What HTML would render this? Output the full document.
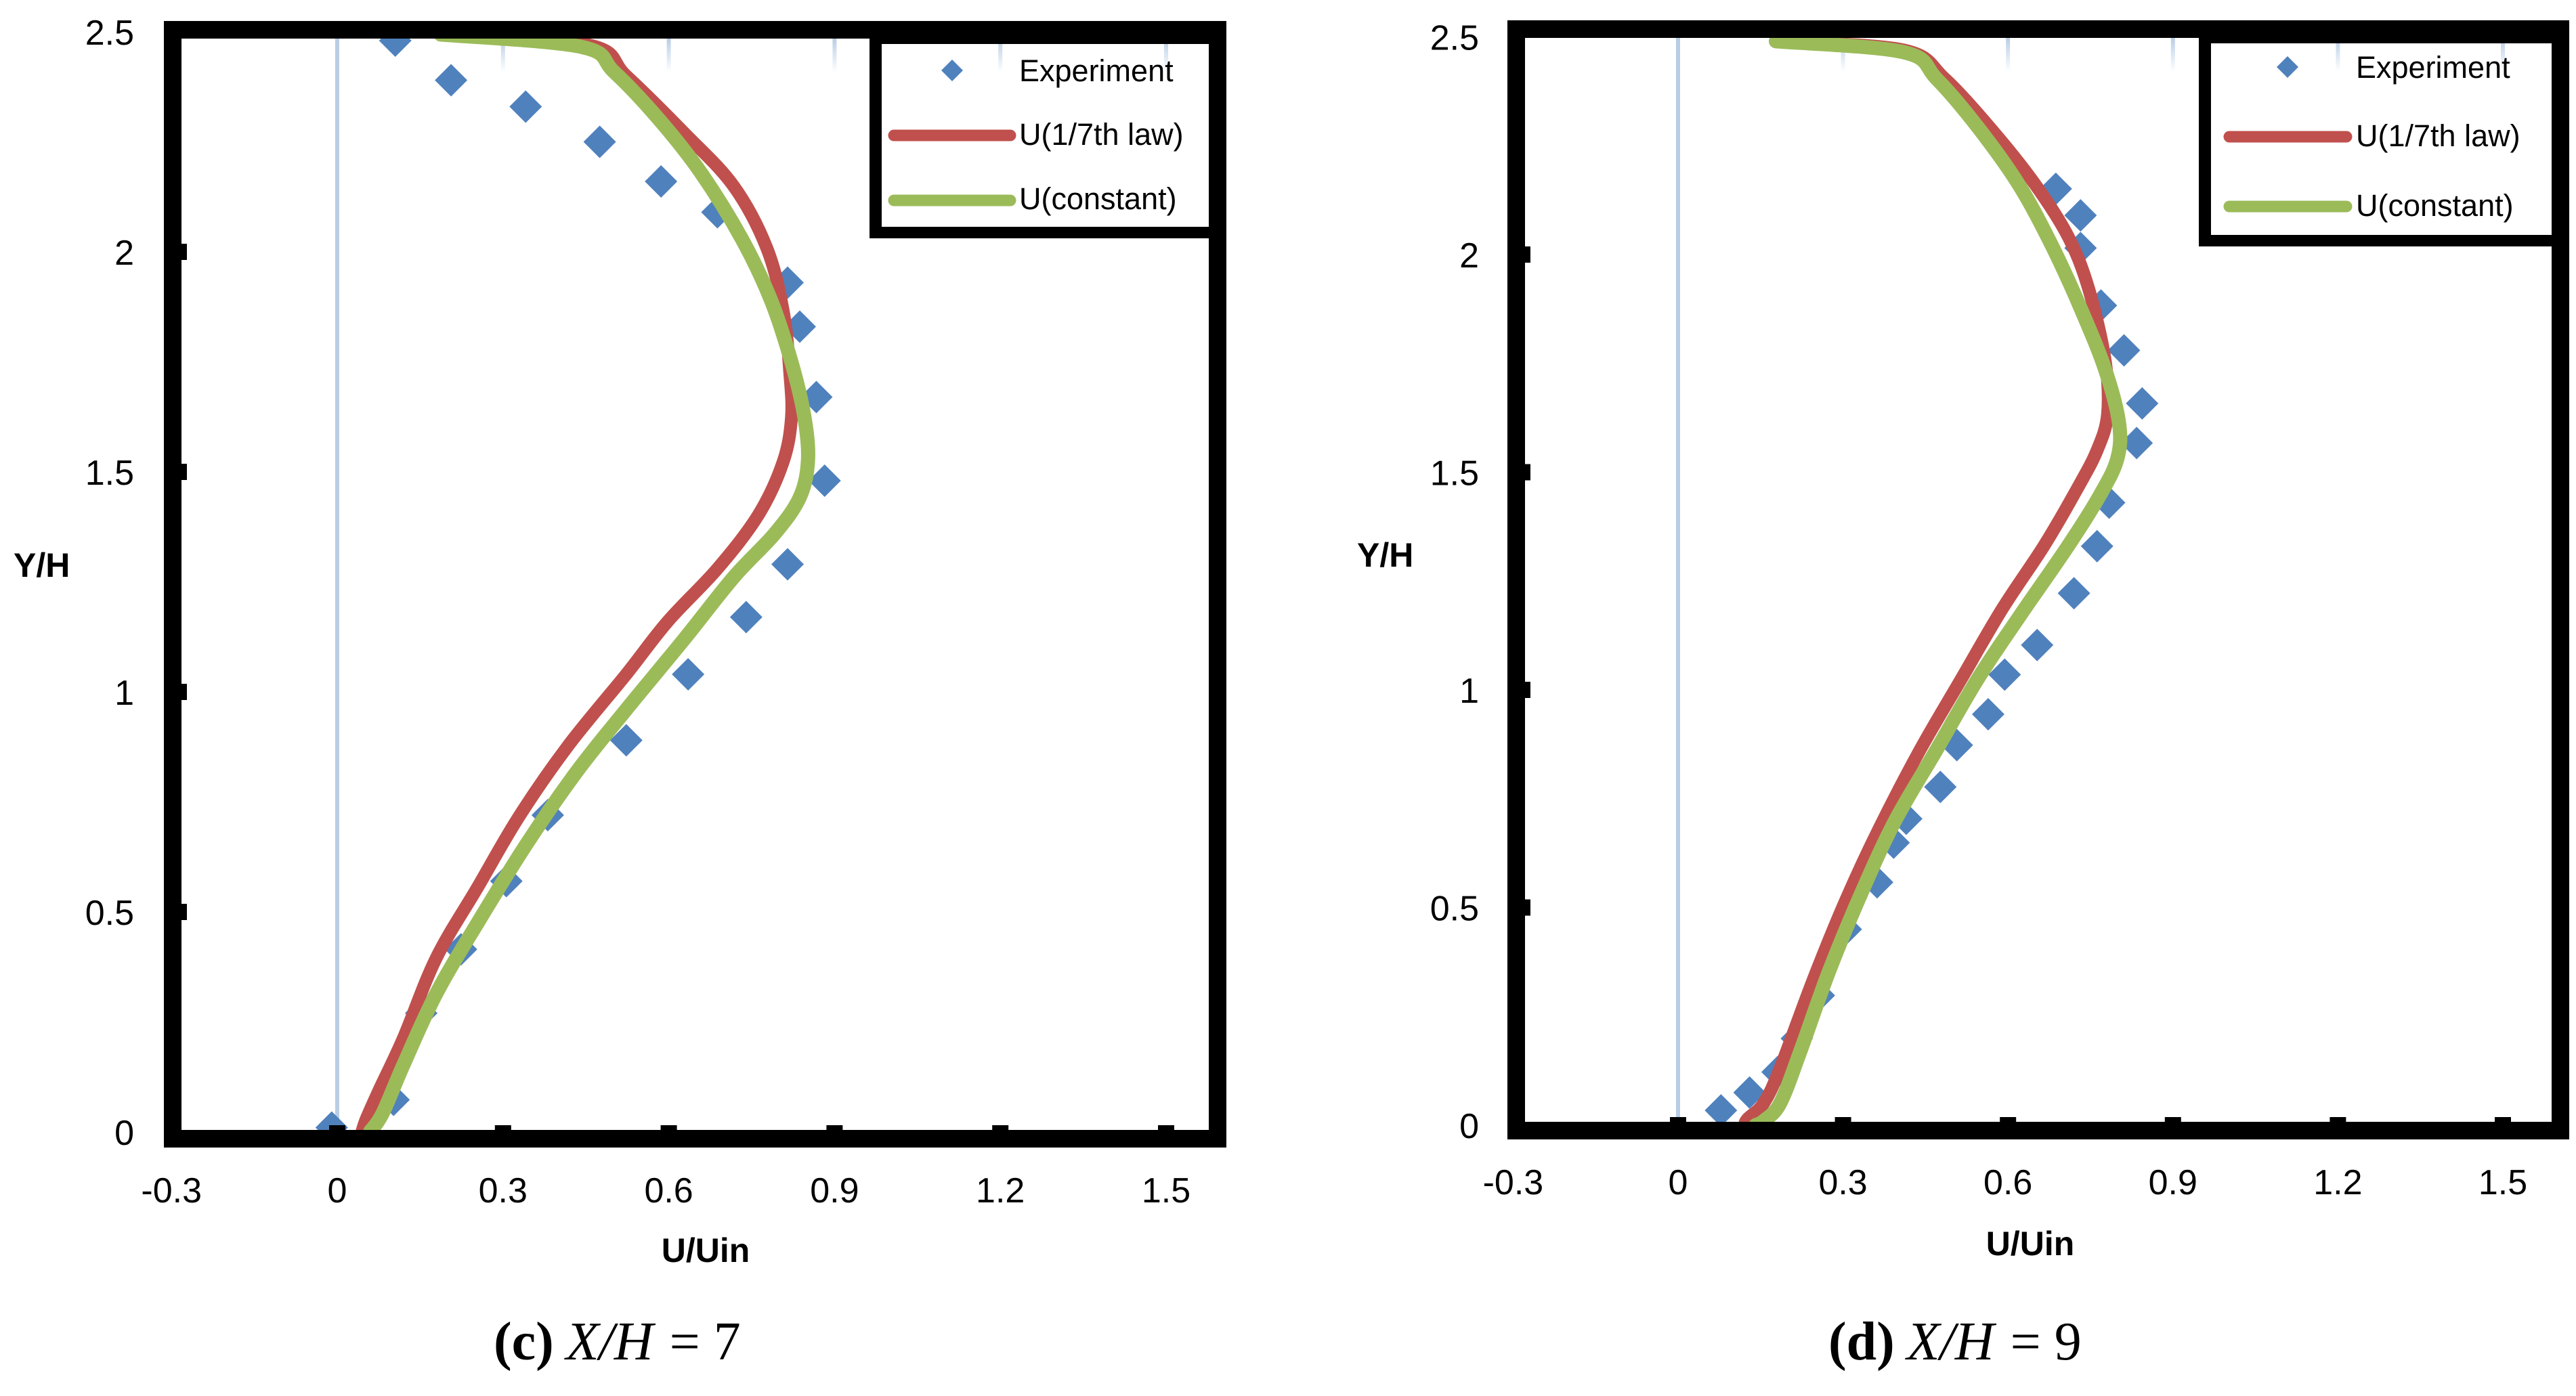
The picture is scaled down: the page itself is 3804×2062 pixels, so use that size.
<!DOCTYPE html>
<html><head><meta charset="utf-8">
<style>
html,body{margin:0;padding:0;background:#fff;}
svg{display:block;}
text{fill:#000;}
</style></head>
<body>
<svg id="fig" width="3804" height="2062" viewBox="0 0 3804 2062" xmlns="http://www.w3.org/2000/svg" style="font-family:'Liberation Sans',sans-serif">
<defs>
<linearGradient id="stub" x1="0" y1="0" x2="0" y2="1">
<stop offset="0" stop-color="#b9cde5"/><stop offset="1" stop-color="#b9cde5" stop-opacity="0"/>
</linearGradient>
</defs>
</svg>
<script>
// ---------- data ----------
const xTicks = [-0.3, 0, 0.3, 0.6, 0.9, 1.2, 1.5];
const xTickLabels = ["-0.3", "0", "0.3", "0.6", "0.9", "1.2", "1.5"];
const yTicks = [0, 0.5, 1, 1.5, 2, 2.5];
const yTickLabels = ["0", "0.5", "1", "1.5", "2", "2.5"];
const seriesNames = ["Experiment", "U(1/7th law)", "U(constant)"];

// Panel (c) X/H = 7
const expC_x = [0.105,0.206,0.341,0.475,0.586,0.688,0.815,0.837,0.867,0.882,0.815,0.740,0.635,0.523,0.381,0.306,0.224,0.152,0.102,-0.01];
const expC_y = [2.48,2.39,2.33,2.25,2.16,2.09,1.93,1.83,1.67,1.48,1.29,1.17,1.04,0.89,0.72,0.57,0.415,0.27,0.073,0.01];
const lawC_x = [0.19,0.456,0.523,0.628,0.717,0.777,0.807,0.819,0.822,0.807,0.762,0.688,0.598,0.523,0.418,0.329,0.254,0.179,0.12,0.075,0.052,0.045];
const lawC_y = [2.494,2.47,2.40,2.27,2.15,2.01,1.866,1.725,1.624,1.523,1.402,1.28,1.16,1.04,0.878,0.717,0.556,0.395,0.214,0.093,0.028,0.002];
const conC_x = [0.187,0.441,0.501,0.583,0.658,0.732,0.785,0.822,0.845,0.852,0.837,0.792,0.717,0.628,0.523,0.433,0.344,0.254,0.179,0.12,0.082,0.06];
const conC_y = [2.494,2.466,2.409,2.30,2.18,2.03,1.89,1.749,1.628,1.527,1.442,1.36,1.26,1.12,0.96,0.818,0.657,0.475,0.314,0.153,0.042,0.002];

// Panel (d) X/H = 9
const expD_x = [0.687,0.732,0.732,0.769,0.811,0.844,0.834,0.784,0.762,0.72,0.653,0.594,0.564,0.507,0.477,0.415,0.392,0.362,0.305,0.256,0.216,0.181,0.13,0.078];
const expD_y = [2.151,2.09,2.015,1.883,1.78,1.658,1.567,1.43,1.33,1.222,1.103,1.035,0.944,0.873,0.777,0.704,0.649,0.558,0.45,0.298,0.199,0.122,0.075,0.034];
const lawD_x = [0.178,0.41,0.485,0.575,0.65,0.71,0.747,0.777,0.781,0.762,0.725,0.665,0.59,0.515,0.44,0.365,0.305,0.246,0.186,0.156,0.126,0.121];
const lawD_y = [2.49,2.47,2.404,2.28,2.16,2.04,1.92,1.755,1.633,1.55,1.46,1.33,1.187,1.025,0.862,0.68,0.517,0.335,0.132,0.051,0.014,0];
const conD_x = [0.178,0.41,0.47,0.545,0.62,0.68,0.732,0.777,0.802,0.799,0.769,0.709,0.62,0.545,0.47,0.395,0.335,0.275,0.223,0.186,0.156,0.141];
const conD_y = [2.49,2.465,2.404,2.293,2.16,2.02,1.877,1.735,1.613,1.532,1.451,1.33,1.167,1.025,0.862,0.70,0.538,0.355,0.172,0.051,0.01,0];

// ---------- drawing ----------
const NS = "http://www.w3.org/2000/svg";
const svg = document.getElementById("fig");
function mk(tag, attrs, parent){
  const e = document.createElementNS(NS, tag);
  for (const k in attrs) e.setAttribute(k, attrs[k]);
  (parent||svg).appendChild(e);
  return e;
}
function smoothPath(pts){
  let d = "M" + pts[0][0].toFixed(1) + "," + pts[0][1].toFixed(1);
  for (let i=0;i<pts.length-1;i++){
    const p0 = pts[Math.max(0,i-1)], p1 = pts[i], p2 = pts[i+1], p3 = pts[Math.min(pts.length-1,i+2)];
    const c1x = p1[0]+(p2[0]-p0[0])/6, c1y = p1[1]+(p2[1]-p0[1])/6;
    const c2x = p2[0]-(p3[0]-p1[0])/6, c2y = p2[1]-(p3[1]-p1[1])/6;
    d += " C"+c1x.toFixed(1)+","+c1y.toFixed(1)+" "+c2x.toFixed(1)+","+c2y.toFixed(1)+" "+p2[0].toFixed(1)+","+p2[1].toFixed(1);
  }
  return d;
}

function panel(cfg){
  const g = mk("g", {});
  
  
  const X = v => cfg.x0 + v*cfg.kx;
  const Y = v => cfg.y0 - v*cfg.ky;
  const F = cfg.frame;

  xTicks.forEach((t,i)=>{
    if (t === 0){
      const l = mk("line",{x1:X(t),y1:F.top+26,x2:X(t),y2:F.bottom,stroke:"#b9cde5","stroke-width":6},g);
      
      
    } else if (t > 0){
      const r = mk("rect",{x:X(t)-3,y:F.top+26,width:6,height:50,fill:"url(#stub)"},g);
      
      
    }
  });

  const eg = mk("g",{},g);
  
  
  cfg.ex.forEach((xv,i)=>{
    const cx = X(xv), cy = Y(cfg.ey[i]), s = 24;
    const p = mk("path",{d:`M${cx},${cy-s} L${cx+s},${cy} L${cx},${cy+s} L${cx-s},${cy} Z`,fill:"#4f81bd"},eg);
    
    
  });

  const lawPts = cfg.lx.map((v,i)=>[X(v),Y(cfg.ly[i])]);
  const conPts = cfg.cx.map((v,i)=>[X(v),Y(cfg.cy[i])]);
  const lp = mk("path",{d:smoothPath(lawPts),fill:"none",stroke:"#c0504d","stroke-width":19,"stroke-linecap":"round","stroke-linejoin":"round"},g);
  
  
  const cp = mk("path",{d:smoothPath(conPts),fill:"none",stroke:"#9bbb59","stroke-width":21,"stroke-linecap":"round","stroke-linejoin":"round"},g);
  
  

  const fr = mk("path",{d:`M${F.left},${F.top} H${F.right} V${F.bottom} H${F.left} Z M${F.left+F.t},${F.top+F.t} V${F.bottom-F.t} H${F.right-F.t} V${F.top+F.t} Z`,fill:"#000","fill-rule":"evenodd"},g);
  
  

  xTicks.forEach((t,i)=>{
    if (t > -0.3){
      const tk = mk("rect",{x:X(t)-12,y:F.bottom-F.t-7,width:24,height:8,fill:"#000"},g);
      
      
    }
    const tl = mk("text",{x:X(t),y:cfg.xLabelY,"font-size":52,"text-anchor":"middle"},g);
    tl.textContent = xTickLabels[i];
    
    
  });
  yTicks.forEach((t,i)=>{
    if (t > 0 && t < 2.5){
      const tk = mk("rect",{x:F.left+F.t-2,y:Y(t)-12,width:10,height:24,fill:"#000"},g);
      
      
    }
    const tl = mk("text",{x:cfg.yLabelX,y:Y(t)+19,"font-size":52,"text-anchor":"end"},g);
    tl.textContent = yTickLabels[i];
    
    
  });

  const yt = mk("text",{x:cfg.yTitle[0],y:cfg.yTitle[1],"font-size":50,"font-weight":"bold"},g);
  yt.textContent = "Y/H";
  
  
  const xt = mk("text",{x:cfg.xTitle[0],y:cfg.xTitle[1],"font-size":50,"font-weight":"bold","text-anchor":"middle"},g);
  xt.textContent = "U/Uin";
  
  

  const L = cfg.legend;
  const lg = mk("g",{},g);
  
  
  const lb = mk("path",{d:`M${L.left},${F.top} H${F.right} V${L.bottom} H${L.left} Z M${L.left+18},${F.top+F.t+8} V${L.bottom-17} H${F.right-F.t} V${F.top+F.t+8} Z`,fill:"#000","fill-rule":"evenodd"},lg);
  
  
  const s = 16;
  const lm = mk("path",{d:`M${L.mx},${L.my-s} L${L.mx+s},${L.my} L${L.mx},${L.my+s} L${L.mx-s},${L.my} Z`,fill:"#4f81bd"},lg);
  
  
  const l1 = mk("line",{x1:L.lx1,x2:L.lx2,y1:L.ry,y2:L.ry,stroke:"#c0504d","stroke-width":17,"stroke-linecap":"round"},lg);
  
  
  const l2 = mk("line",{x1:L.lx1,x2:L.lx2,y1:L.gy,y2:L.gy,stroke:"#9bbb59","stroke-width":17,"stroke-linecap":"round"},lg);
  
  
  [L.b1,L.b2,L.b3].forEach((by,i)=>{
    const t = mk("text",{x:L.tx,y:by,"font-size":45},lg);
    t.textContent = seriesNames[i];
    
    
  });

  const cap = mk("text",{x:cfg.caption[0],y:cfg.caption[1],"font-size":80,style:"font-family:'Liberation Serif',serif"},g);
  
  
  const b = mk("tspan",{"font-weight":"bold"},cap); b.textContent = "(" + cfg.letter + ")";
  const it = mk("tspan",{"font-style":"italic","dx":18},cap); it.textContent = "X/H";
  const eq = mk("tspan",{"dx":24},cap); eq.textContent = "=  " + cfg.xh;
}

panel({
  name:"panel-c", letter:"c", xh:"7",
  x0:498, kx:816, y0:1672, ky:650,
  frame:{left:242,right:1811,top:31,bottom:1695,t:26},
  xLabelY:1776, yLabelX:198,
  yTitle:[20,852], xTitle:[1042,1864],
  legend:{left:1284,bottom:352,mx:1406,my:104,lx1:1320,lx2:1492,ry:200,gy:296,tx:1505,b1:120,b2:214,b3:309},
  caption:[729,2008],
  ex:expC_x, ey:expC_y, lx:lawC_x, ly:lawC_y, cx:conC_x, cy:conC_y
});
panel({
  name:"panel-d", letter:"d", xh:"9",
  x0:2478, kx:812, y0:1662, ky:643,
  frame:{left:2226,right:3794,top:30,bottom:1683,t:26},
  xLabelY:1764, yLabelX:2184,
  yTitle:[2004,837], xTitle:[2998,1854],
  legend:{left:3247,bottom:364,mx:3378,my:99,lx1:3292,lx2:3465,ry:202,gy:305,tx:3479,b1:115,b2:216,b3:319},
  caption:[2700,2008],
  ex:expD_x, ey:expD_y, lx:lawD_x, ly:lawD_y, cx:conD_x, cy:conD_y
});
</script>
</body></html>
